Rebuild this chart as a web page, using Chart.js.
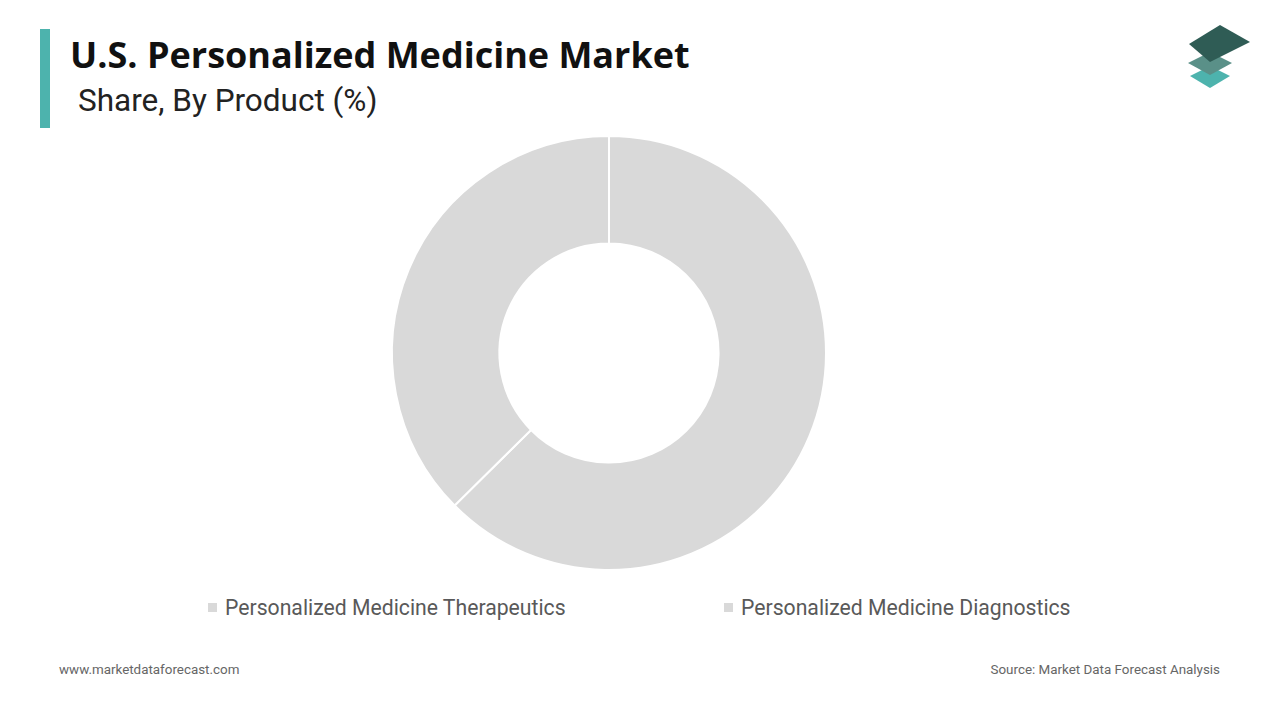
<!DOCTYPE html>
<html>
<head>
<meta charset="utf-8">
<script src="https://cdn.jsdelivr.net/npm/chart.js@4"></script>
<style>
  body { margin:0; width:1280px; height:720px; background:#fff; font-family:Roboto, "Open Sans", sans-serif; position:relative; overflow:hidden; }
  #bar { position:absolute; left:40px; top:29px; width:10px; height:99px; background:#4db3ad; }
  #title { position:absolute; left:70px; top:30px; font-size:36px; font-weight:bold; color:#111; font-family:"Open Sans", sans-serif; }
  #sub { position:absolute; left:78px; top:82px; font-size:31.5px; color:#222; }
  #wrap { position:absolute; left:0; top:135px; width:1218px; height:436px; }
  #legend { position:absolute; top:595px; left:0; width:1280px; font-size:21.2px; color:#595959; }
  .item { position:absolute; white-space:nowrap; }
  .item span { display:inline-block; width:9px; height:9px; margin-right:8px; vertical-align:middle; position:relative; top:-2px; }
  .foot { position:absolute; top:662px; font-size:13.4px; color:#666; }
</style>
</head>
<body>
<div id="bar"></div>
<div id="title">U.S. Personalized Medicine Market</div>
<div id="sub">Share, By Product (%)</div>
<svg style="position:absolute;left:1186px;top:22px" width="66" height="70" viewBox="0 0 66 70">
  <polygon points="24,44 44,54 24,66 4,54" fill="#4db3ad"/>
  <polygon points="24,30 46,41 24,53 2,41" fill="#5a9088"/>
  <polygon points="34,3 64,20 24,40 3,22" fill="#2f5c55"/>
</svg>
<div id="wrap"><canvas id="c"></canvas></div>
<div id="legend"></div>
<div class="foot" style="left:59px">www.marketdataforecast.com</div>
<div class="foot" style="right:60px">Source: Market Data Forecast Analysis</div>
<script>
const CATEGORIES = ["Personalized Medicine Therapeutics", "Personalized Medicine Diagnostics"];
const SHARES = [62.6, 37.4];
const COLORS = ["#d9d9d9", "#d9d9d9"];
const LEGEND_X = [208, 724];

new Chart(document.getElementById("c"), {
  type: "doughnut",
  data: {
    labels: CATEGORIES,
    datasets: [{ data: SHARES, backgroundColor: COLORS, borderColor: "#fff", borderWidth: 2, hoverOffset: 0 }]
  },
  options: {
    responsive: true,
    maintainAspectRatio: false,
    animation: false,
    cutout: "50.5%",
    plugins: { legend: { display: false }, tooltip: { enabled: false } }
  }
});

const legend = document.getElementById("legend");
CATEGORIES.forEach((c, i) => {
  const d = document.createElement("div");
  d.className = "item";
  d.style.left = LEGEND_X[i] + "px";
  d.innerHTML = '<span style="background:' + COLORS[i] + '"></span>' + c;
  legend.appendChild(d);
});
</script>
</body>
</html>
